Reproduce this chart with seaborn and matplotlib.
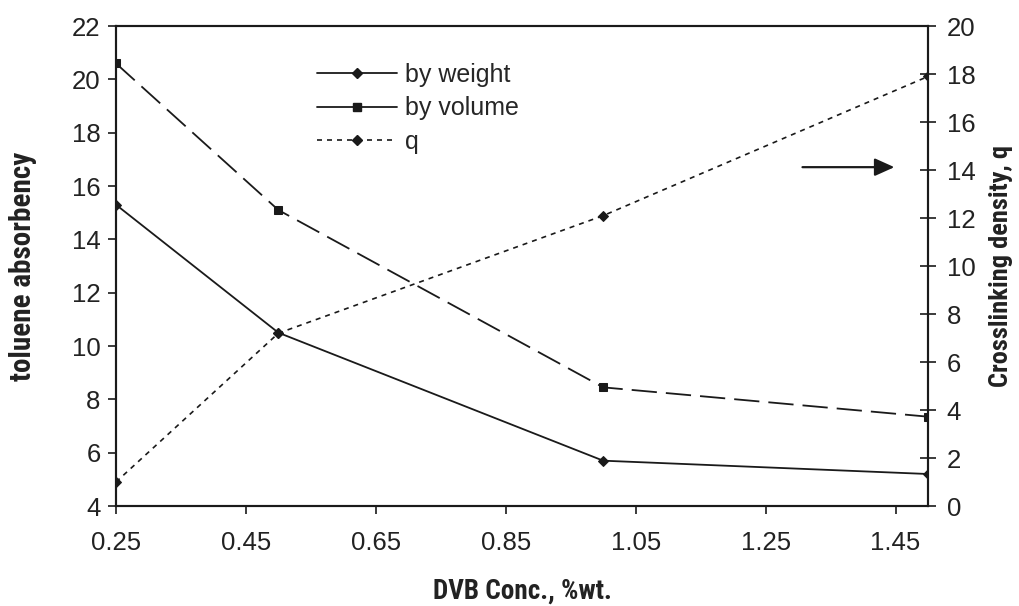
import matplotlib
matplotlib.use("Agg")
import matplotlib.pyplot as plt
from matplotlib.lines import Line2D
import seaborn as sns
import pandas as pd

dvb = [0.25, 0.5, 1.0, 1.5]
by_weight = [15.3, 10.5, 5.7, 5.2]
by_volume = [20.6, 15.1, 8.45, 7.35]
q_vals = [1.0, 7.2, 12.1, 17.9]
x_ticks = [0.25, 0.45, 0.65, 0.85, 1.05, 1.25, 1.45]
left_ticks = list(range(4, 23, 2))
right_ticks = list(range(0, 21, 2))
series_names = ["by weight", "by volume", "q"]

sns.set_theme(style="white")
plt.rcParams['font.family'] = ['Liberation Sans', 'DejaVu Sans']

df = pd.DataFrame({"dvb": dvb, "w": by_weight, "v": by_volume, "q": q_vals})

fig = plt.figure(figsize=(10.19, 6.06), dpi=100)
ax = fig.add_axes([0.1138, 0.165, 0.7969, 0.792])
ax2 = ax.twinx()
c = "#1a1a1a"
tc = "#222222"

sns.lineplot(data=df, x="dvb", y="w", ax=ax, color=c, lw=1.3, marker="D", markersize=5,
             markeredgecolor=c, markerfacecolor=c)
sns.lineplot(data=df, x="dvb", y="v", ax=ax, color=c, lw=1.3, marker="s", markersize=5.5,
             markeredgecolor=c, markerfacecolor=c, linestyle=(0, (14, 5)))
sns.lineplot(data=df, x="dvb", y="q", ax=ax2, color=c, lw=1.2, marker="D", markersize=5,
             markeredgecolor=c, markerfacecolor=c, linestyle=(0, (3, 3)))

ax.set_xlim(0.25, 1.5)
ax.set_ylim(4, 22)
ax2.set_ylim(0, 20)
ax.set_xticks(x_ticks)
ax.set_xticklabels([f"{t:.2f}" for t in x_ticks])
ax.set_yticks(left_ticks)
ax2.set_yticks(right_ticks)

for a in (ax, ax2):
    for s in a.spines.values():
        s.set_color(c)
        s.set_linewidth(1.5)
ax.tick_params(axis="both", which="both", direction="out", length=6, width=1.2, color=c,
               labelsize=18.5, labelcolor=tc, left=True, bottom=True, pad=5)
ax.tick_params(axis="x", pad=12)
ax2.tick_params(axis="y", direction="inout", length=11, width=1.2, color=c,
                labelsize=18.5, labelcolor=tc, right=True, pad=8)

lab_font = dict(fontweight="bold", family=['Roboto Condensed', 'Liberation Sans'], color=tc)
ax.set_xlabel("DVB Conc., %wt.", fontsize=19.5, **lab_font)
ax.set_ylabel("toluene absorbency", fontsize=21, **lab_font)
ax2.set_ylabel("Crosslinking density, q", fontsize=19, **lab_font)
ax.xaxis.set_label_coords(0.5, -0.15)
ax.yaxis.set_label_coords(-0.097, 0.5)
ax2.yaxis.set_label_coords(1.075, 0.5)

handles = [
    Line2D([], [], color=c, lw=1.3, marker="D", markersize=5),
    Line2D([], [], color=c, lw=1.3, marker="s", markersize=5.5),
    Line2D([], [], color=c, lw=1.2, marker="D", markersize=5, linestyle=(0, (3, 3))),
]
ax.legend(handles, series_names, loc="upper left",
          bbox_to_anchor=(0.22, 0.97), frameon=False, fontsize=18,
          handlelength=3.2, labelspacing=0.38, handletextpad=0.3, borderpad=0.4)

ax.annotate("", xy=(0.962, 0.706), xytext=(0.842, 0.706), xycoords="axes fraction",
            arrowprops=dict(arrowstyle="-|>,head_length=1.0,head_width=0.45", color=c, lw=1.6))

fig.savefig("out.png", dpi=100)
